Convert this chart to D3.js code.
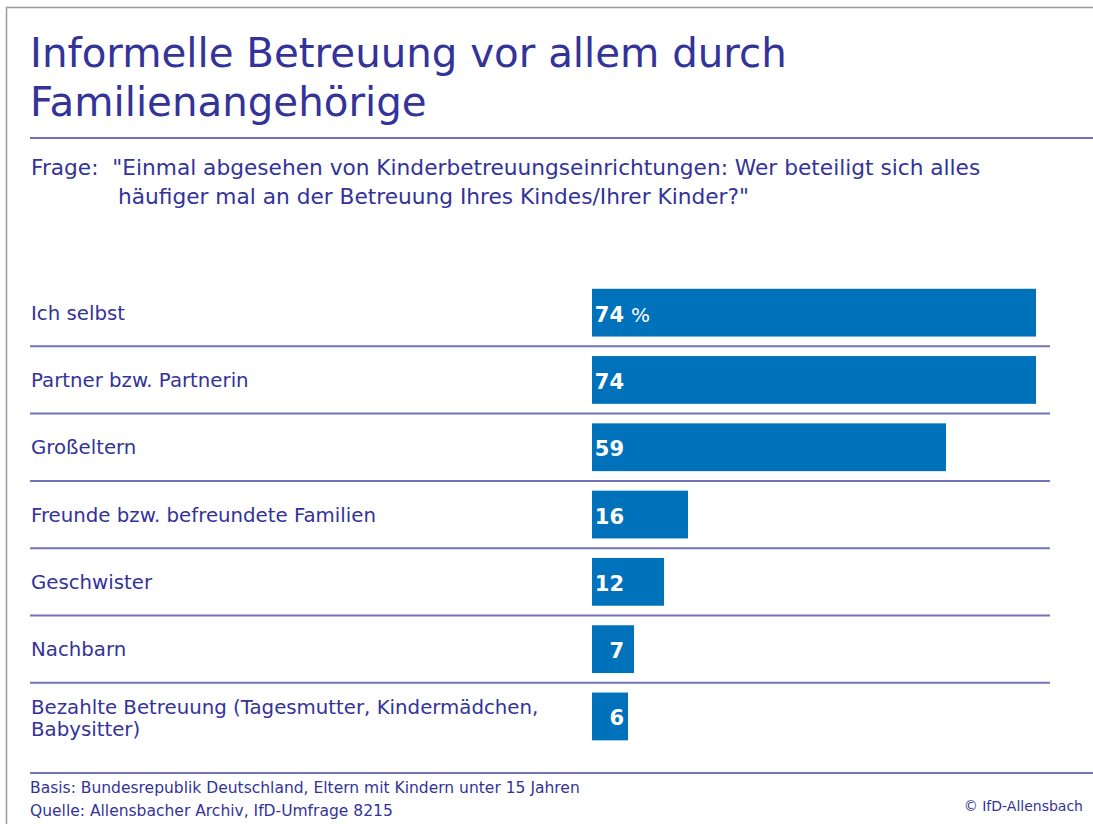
<!DOCTYPE html>
<html>
<head>
<meta charset="utf-8">
<script src="https://cdn.jsdelivr.net/npm/d3@7"></script>
<style>
  body { margin: 0; background: #fff; }
  svg { display: block; }
  text { font-family: "DejaVu Sans", sans-serif; }
</style>
</head>
<body>
<svg width="1093" height="824"></svg>
<script>
var categories = [
  'Ich selbst',
  'Partner bzw. Partnerin',
  'Großeltern',
  'Freunde bzw. befreundete Familien',
  'Geschwister',
  'Nachbarn',
  'Bezahlte Betreuung (Tagesmutter, Kindermädchen,|Babysitter)'
];
var values = [74, 74, 59, 16, 12, 7, 6];

var titleLines = ['Informelle Betreuung vor allem durch', 'Familienangehörige'];
var questionLines = ['Frage:  "Einmal abgesehen von Kinderbetreuungseinrichtungen: Wer beteiligt sich alles',
  'häufiger mal an der Betreuung Ihres Kindes/Ihrer Kinder?"'];
var footLines = ['Basis: Bundesrepublik Deutschland, Eltern mit Kindern unter 15 Jahren',
  'Quelle: Allensbacher Archiv, IfD-Umfrage 8215'];

var ink = '#333399';
var rule = '#7373b9';
var barColor = '#0071bb';

var svg = d3.select('svg');

// frame
svg.append('path')
  .attr('d', 'M6.5,824 L6.5,7.5 L1093,7.5')
  .attr('fill', 'none')
  .attr('stroke', '#9a9a9a')
  .attr('stroke-width', 1.5);

// fit text to a width
function fit(sel, w) {
  var len = sel.node().getComputedTextLength();
  var fs = parseFloat(sel.attr('font-size'));
  sel.attr('font-size', fs * w / len);
}

var t1 = svg.append('text').text(titleLines[0])
  .attr('x', 30).attr('y', 67).attr('fill', ink).attr('font-size', 40);
fit(t1, 757);
svg.append('text').text(titleLines[1])
  .attr('x', 30).attr('y', 116).attr('fill', ink).attr('font-size', t1.attr('font-size'));

svg.append('line')
  .attr('x1', 30).attr('x2', 1093).attr('y1', 138).attr('y2', 138)
  .attr('stroke', rule).attr('stroke-width', 2);

var q1 = svg.append('text').text(questionLines[0])
  .attr('x', 31).attr('y', 175).attr('fill', ink).attr('font-size', 20)
  .style('white-space', 'pre');
fit(q1, 950);
svg.append('text').text(questionLines[1])
  .attr('x', 118).attr('y', 204).attr('fill', ink).attr('font-size', q1.attr('font-size'));

var x = d3.scaleLinear().domain([0, 100]).range([592, 1192]);
var y = d3.scaleBand().domain(categories).range([279, 750.1]).paddingInner(0.29).paddingOuter(0.145);
var rowStep = y.step();

var rows = svg.selectAll('g.row')
  .data(categories)
  .enter().append('g')
  .attr('class', 'row');

rows.append('rect')
  .attr('x', x(0))
  .attr('y', function (d) { return y(d); })
  .attr('width', function (d, i) { return x(values[i]) - x(0); })
  .attr('height', y.bandwidth())
  .attr('fill', barColor);

rows.filter(function (d, i) { return i < categories.length - 1; })
  .append('line')
  .attr('x1', 30).attr('x2', 1050)
  .attr('y1', function (d) { return y(d) - y.step() * y.paddingOuter() + rowStep; })
  .attr('y2', function (d) { return y(d) - y.step() * y.paddingOuter() + rowStep; })
  .attr('stroke', rule).attr('stroke-width', 2);

rows.each(function (d, i) {
  var g = d3.select(this);
  var parts = d.split('|');
  var cy = y(d) + y.bandwidth() / 2;
  var base = parts.length > 1 ? cy - 2 : cy + 7;
  parts.forEach(function (p, k) {
    g.append('text').text(p)
      .attr('class', 'cat')
      .attr('x', 31).attr('y', base + k * 22)
      .attr('fill', ink).attr('font-size', 19);
  });
  g.append('text')
    .attr('x', 624).attr('y', cy + 9)
    .attr('text-anchor', 'end')
    .attr('fill', '#fff').attr('font-size', 21).attr('font-weight', 'bold')
    .text(values[i]);
  if (i === 0) {
    g.append('text').text('%')
      .attr('x', 631).attr('y', cy + 9)
      .attr('fill', '#fff').attr('font-size', 20);
  }
});

var c0 = svg.select('text.cat');
fit(c0, 94);
svg.selectAll('text.cat').attr('font-size', c0.attr('font-size'));

svg.append('line')
  .attr('x1', 30).attr('x2', 1093).attr('y1', 773).attr('y2', 773)
  .attr('stroke', rule).attr('stroke-width', 2);

var f1 = svg.append('text').text(footLines[0])
  .attr('x', 30).attr('y', 793).attr('fill', ink).attr('font-size', 16);
fit(f1, 550);
svg.append('text').text(footLines[1])
  .attr('x', 30).attr('y', 816).attr('fill', ink).attr('font-size', f1.attr('font-size'));

svg.append('text').text('© IfD-Allensbach')
  .attr('x', 1083).attr('y', 811).attr('text-anchor', 'end')
  .attr('fill', ink).attr('font-size', 14);
</script>
</body>
</html>
